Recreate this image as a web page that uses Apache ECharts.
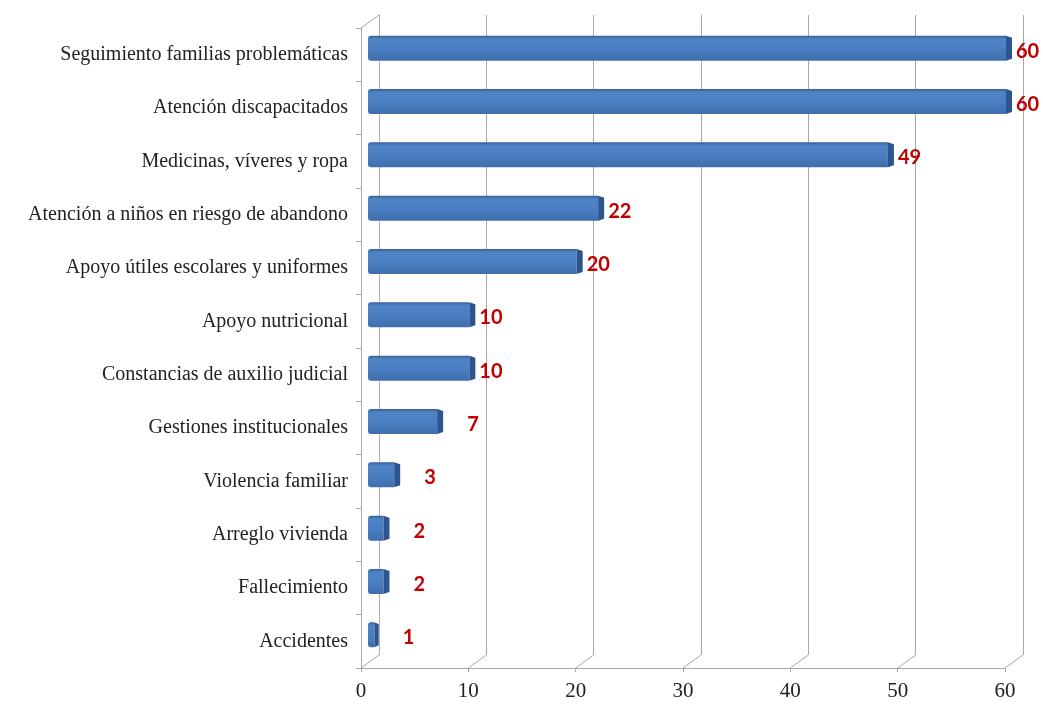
<!DOCTYPE html>
<html>
<head>
<meta charset="utf-8">
<script src="https://cdn.jsdelivr.net/npm/echarts@6/dist/echarts.min.js"></script>
<style>
html,body{margin:0;padding:0;background:#fff;}
#chart{width:1043px;height:713px;}
</style>
</head>
<body>
<div id="chart"></div>
<script>
const categories = [
  "Seguimiento familias problemáticas",
  "Atención discapacitados",
  "Medicinas, víveres y ropa",
  "Atención a niños en riesgo de abandono",
  "Apoyo útiles escolares y uniformes",
  "Apoyo nutricional",
  "Constancias de auxilio judicial",
  "Gestiones institucionales",
  "Violencia familiar",
  "Arreglo vivienda",
  "Fallecimiento",
  "Accidentes"
];
const values = [60, 60, 49, 22, 20, 10, 10, 7, 3, 2, 2, 1];
const xTicks = [0, 10, 20, 30, 40, 50, 60];

const DEPTH_X = 18, DEPTH_Y = -13;   // back wall offset
const BAR_X = 7, BAR_Y = -6.5;      // bar mid-depth offset

const chart = echarts.init(document.getElementById('chart'));

function renderBar(params, api) {
  const i = api.value(1);
  const v = api.value(0);
  const p0 = api.coord([0, i]);
  const p1 = api.coord([v, i]);
  const band = api.size([0, 1])[1];
  const h = band * 0.47;
  const x0 = p0[0] + BAR_X;
  const x1 = p1[0] + BAR_X;
  const yc = p0[1] + BAR_Y;
  const top = yc - h / 2, bot = yc + h / 2;
  const cap = Math.min(6, (x1 - x0) * 0.4);
  const gap = v < 10 ? 24 : 4;
  return {
    type: 'group',
    children: [
      {
        type: 'rect',
        shape: { x: x0, y: top, width: Math.max(1, x1 - x0 - cap), height: h, r: [3, 0, 0, 3] },
        style: {
          fill: new echarts.graphic.LinearGradient(0, 0, 0, 1, [
            { offset: 0, color: '#375f98' },
            { offset: 0.14, color: '#4f84c8' },
            { offset: 0.55, color: '#4a7ec0' },
            { offset: 1, color: '#3f6dad' }
          ])
        }
      },
      {
        type: 'polygon',
        shape: { points: [[x1 - cap, top], [x1, top + 2], [x1, bot - 2], [x1 - cap, bot]] },
        style: { fill: '#2c5590' }
      },
      {
        type: 'text',
        style: {
          text: String(v),
          x: x1 + gap,
          y: yc + 3,
          align: 'left',
          verticalAlign: 'middle',
          fill: '#c00000',
          font: 'bold 20px Lato, "Liberation Sans", sans-serif'
        }
      }
    ]
  };
}

function renderFloor(params, api) {
  const cs = params.coordSys;
  const t = api.value(0);
  const p = api.coord([t, 0]);
  const yb = cs.y + cs.height;
  const children = [{
    type: 'line',
    shape: { x1: p[0], y1: yb, x2: p[0] + DEPTH_X, y2: yb + DEPTH_Y },
    style: { stroke: '#a8a8a8', lineWidth: 1 }
  }];
  if (params.dataIndex === 0) {
    children.push({
      type: 'line',
      shape: { x1: cs.x, y1: cs.y, x2: cs.x + DEPTH_X, y2: cs.y + DEPTH_Y },
      style: { stroke: '#a8a8a8', lineWidth: 1 }
    });
  }
  return { type: 'group', children: children };
}

const option = {
  backgroundColor: '#ffffff',
  animation: false,
  grid: [
    { left: 361 + DEPTH_X, right: 38 - DEPTH_X, top: 28 + DEPTH_Y, bottom: 45 - DEPTH_Y },
    { left: 361, right: 38, top: 28, bottom: 45 }
  ],
  xAxis: [
    {
      gridIndex: 0, type: 'value', min: 0, max: 60, interval: 10,
      axisLine: { show: false }, axisTick: { show: false }, axisLabel: { show: false },
      splitLine: { show: true, lineStyle: { color: '#a8a8a8', width: 1 } }
    },
    {
      gridIndex: 1, type: 'value', min: 0, max: 60, interval: 10,
      axisLine: { show: true, onZero: false, lineStyle: { color: '#a8a8a8' } },
      axisTick: { show: true, length: 4, lineStyle: { color: '#a8a8a8' } },
      splitLine: { show: false },
      axisLabel: {
        margin: 13, color: '#222',
        fontFamily: '"Liberation Serif", "DejaVu Serif", serif', fontSize: 21,
        formatter: function (v) { return xTicks.indexOf(v) >= 0 ? String(v) : ''; }
      }
    }
  ],
  yAxis: [
    {
      gridIndex: 0, type: 'category', data: categories, inverse: true,
      axisLine: { show: true, lineStyle: { color: '#b0b0b0' } },
      axisTick: { show: false }, axisLabel: { show: false }, splitLine: { show: false }
    },
    {
      gridIndex: 1, type: 'category', data: categories, inverse: true,
      axisLine: { show: true, lineStyle: { color: '#a8a8a8' } },
      axisTick: { show: true, length: 5, lineStyle: { color: '#a8a8a8' } },
      axisLabel: {
        margin: 13, color: '#222',
        fontFamily: '"Liberation Serif", "DejaVu Serif", serif', fontSize: 20
      }
    }
  ],
  series: [
    {
      type: 'custom', xAxisIndex: 1, yAxisIndex: 1,
      renderItem: renderFloor,
      data: xTicks.map(function (t) { return [t, 0]; }),
      encode: { x: 0, y: 1 },
      silent: true, z: 1
    },
    {
      type: 'custom', xAxisIndex: 1, yAxisIndex: 1,
      renderItem: renderBar,
      data: values.map(function (v, i) { return [v, i]; }),
      encode: { x: 0, y: 1 },
      clip: false, z: 5
    }
  ]
};
chart.setOption(option);
</script>
</body>
</html>
